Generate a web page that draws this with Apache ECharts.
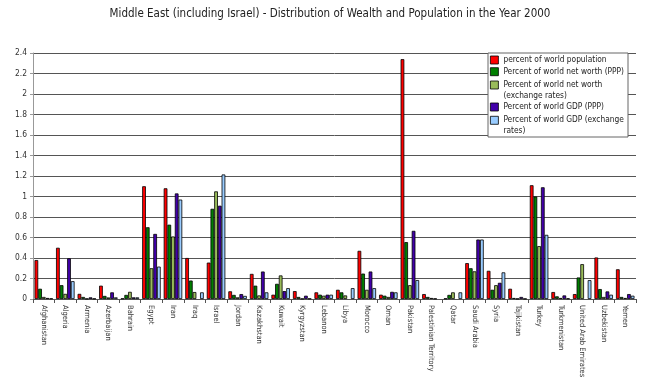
<!DOCTYPE html>
<html>
<head>
<meta charset="utf-8">
<script src="https://cdn.jsdelivr.net/npm/echarts@6/dist/echarts.min.js"></script>
<style>html,body{margin:0;padding:0;background:#fff;}#c{width:660px;height:387px;}</style>
</head>
<body>
<div id="c"></div>
<script>
var titleText = 'Middle East (including Israel) - Distribution of Wealth and Population in the Year 2000';
var categories = ['Afghanistan','Algeria','Armenia','Azerbaijan','Bahrain','Egypt','Iran','Iraq','Israel','Jordan','Kazakhstan','Kuwait','Kyrgyzstan','Lebanon','Libya','Morocco','Oman','Pakistan','Palestinian Territory','Qatar','Saudi Arabia','Syria','Tajikistan','Turkey','Turkmenistan','United Arab Emirates','Uzbekistan','Yemen'];
var seriesNames = ['percent of world population','Percent of world net worth (PPP)','Percent of world net worth (exchange rates)','Percent of world GDP (PPP)','Percent of world GDP (exchange rates)'];
var legendLabels = ['percent of world population','Percent of world net worth (PPP)','Percent of world net worth\n(exchange rates)','Percent of world GDP (PPP)','Percent of world GDP (exchange\nrates)'];
var population = [0.38,0.50,0.05,0.13,0.005,1.10,1.08,0.40,0.355,0.075,0.245,0.042,0.077,0.065,0.09,0.47,0.042,2.34,0.048,0.005,0.35,0.275,0.10,1.11,0.068,0.048,0.405,0.29];
var netWorthPPP = [0.10,0.135,0.02,0.03,0.04,0.70,0.725,0.18,0.88,0.04,0.13,0.148,0.02,0.042,0.065,0.248,0.032,0.555,0.02,0.04,0.30,0.09,0.01,1.00,0.026,0.21,0.097,0.02];
var netWorthFX = [0.02,0.05,0.003,0.015,0.07,0.30,0.61,0.068,1.05,0.016,0.035,0.23,0.003,0.032,0.035,0.09,0.02,0.135,0.01,0.065,0.27,0.135,0.003,0.516,0.01,0.34,0.02,0.01];
var gdpPPP = [0.01,0.397,0.016,0.065,0.016,0.635,1.03,null,0.91,0.048,0.268,0.077,0.032,0.042,null,0.268,0.07,0.665,0.004,null,0.58,0.158,0.02,1.09,0.035,null,0.074,0.048];
var gdpFX = [0.005,0.174,0.004,0.016,0.016,0.316,0.97,0.065,1.215,0.03,0.065,0.106,0.004,0.042,0.106,0.106,0.065,0.185,null,0.065,0.58,0.26,0.003,0.626,0.006,0.184,0.042,0.032];
var yTicks = ['0','0.2','0.4','0.6','0.8','1','1.2','1.4','1.6','1.8','2','2.2','2.4'];

var colors = ['#ff0000','#007f00','#99bb5a','#4200aa','#99ccff'];
var FONT = "'DejaVu Sans Condensed', 'DejaVu Sans', sans-serif";
var values = [population, netWorthPPP, netWorthFX, gdpPPP, gdpFX];

var chart = echarts.init(document.getElementById('c'), null, {renderer: 'canvas'});

var series = seriesNames.map(function (n, i) {
  return {
    name: n,
    type: 'bar',
    data: values[i],
    barGap: '0%',
    barCategoryGap: '14%',
    itemStyle: {color: colors[i], borderColor: '#000', borderWidth: 0.8},
    emphasis: {disabled: true},
    animation: false
  };
});

// legend entries: icon-centre y positions
var legendY = [60, 71.7, 85, 107, 120.3];
var LH = 10.7;
var legends = seriesNames.map(function (n, i) {
  var twoLine = legendLabels[i].indexOf('\n') >= 0;
  var half = twoLine ? (3 * LH) / 2 : LH / 2;
  return {
    show: true,
    orient: 'vertical',
    left: 490,
    top: legendY[i] - half,
    padding: 0,
    itemWidth: 8,
    itemHeight: 8,
    icon: 'rect',
    selectedMode: false,
    itemStyle: {borderColor: '#000', borderWidth: 0.8},
    data: [n],
    formatter: function () { return twoLine ? ' \n' + legendLabels[i] : legendLabels[i]; },
    textStyle: {fontFamily: FONT, fontSize: 8.3, lineHeight: LH, color: '#222'}
  };
});

var option = {
  backgroundColor: '#fff',
  animation: false,
  color: colors,
  title: {
    text: titleText,
    left: 'center',
    top: 8,
    padding: 0,
    textStyle: {fontFamily: FONT, fontSize: 11.5, fontWeight: 'normal', color: '#222'}
  },
  legend: legends,
  graphic: [{
    type: 'rect',
    z: 3,
    shape: {x: 488, y: 53, width: 140, height: 84},
    style: {fill: '#fff', stroke: '#666', lineWidth: 1}
  }],
  grid: {left: 33, top: 53, right: 24, bottom: 88, containLabel: false, outerBoundsMode: 'none'},
  xAxis: {
    type: 'category',
    data: categories,
    axisLine: {lineStyle: {color: '#555', width: 1}},
    axisTick: {show: true, length: 4, lineStyle: {color: '#555'}},
    axisLabel: {rotate: -90, margin: 6, fontFamily: FONT, fontSize: 7.5, color: '#333', interval: 0}
  },
  yAxis: {
    type: 'value',
    min: 0,
    max: 2.4,
    interval: 0.2,
    axisLine: {show: true, lineStyle: {color: '#999', width: 1}},
    axisTick: {show: true, length: 3, lineStyle: {color: '#999'}},
    axisLabel: {margin: 6, fontFamily: FONT, fontSize: 8.4, color: '#333',
      formatter: function (v) { var k = Math.round(v / 0.2); return yTicks[k]; }},
    splitLine: {show: true, lineStyle: {color: '#555', width: 1}}
  },
  series: series
};
chart.setOption(option);
</script>
</body>
</html>
